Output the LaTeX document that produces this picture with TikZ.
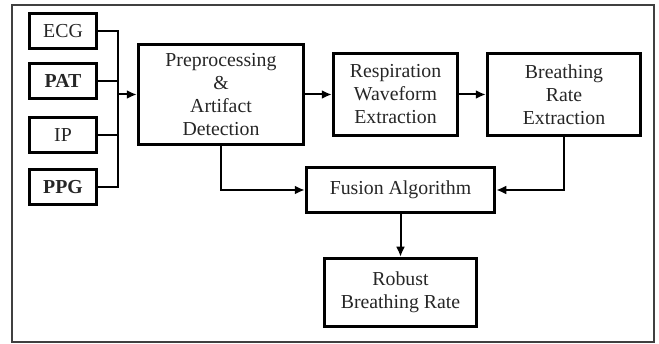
\documentclass[tikz,border=0pt]{standalone}
\usepackage{fontspec}
\setmainfont{Liberation Serif}
\usetikzlibrary{arrows.meta}
\begin{document}
\begin{tikzpicture}[x=1pt,y=-1pt,
  every node/.style={font=\fontsize{19.8}{23}\selectfont, text=black!85, align=center, inner sep=0pt},
  blk/.style={draw=black, line width=3.5pt, rectangle},
  inbox/.style={blk, minimum width=67pt, minimum height=35pt},
  conn/.style={line width=2pt, draw=black, line join=miter},
  arr/.style={conn, -{Latex[length=10pt,width=9pt]}}
]
\useasboundingbox (0,0) rectangle (659,344);
\draw[line width=1.5pt, draw=black!75] (12,5) rectangle (654,342);

\node[inbox] (ecg) at (63,31) {ECG};
\node[inbox] (pat) at (63,81) {\bfseries PAT};
\node[inbox] (ip) at (63,135) {IP};
\node[inbox] (ppg) at (63,187) {\bfseries PPG};

\node[blk, minimum width=165pt, minimum height=100pt] (pre) at (221,94.5) {\fontsize{19.8}{21}\selectfont Preprocessing\\\&\\Artifact\\Detection};
\node[blk, minimum width=124pt, minimum height=82pt] (resp) at (395.5,94.5) {Respiration\\Waveform\\Extraction};
\node[blk, minimum width=153pt, minimum height=82pt] (br) at (564,94.5) {Breathing\\Rate\\Extraction};
\node[blk, minimum width=188pt, minimum height=45pt] (fus) at (400.5,190) {Fusion Algorithm};
\node[blk, minimum width=152pt, minimum height=68pt] (rob) at (400.5,292.5) {Robust\\Breathing Rate};

\coordinate (bt) at (118,31);
\coordinate (bm) at (118,94.5);

\draw[conn] (ecg.east) -- (ecg.east -| bt) -- (ppg.east -| bt) -- (ppg.east);
\draw[conn] (pat.east) -- (pat.east -| bt);
\draw[conn] (ip.east) -- (ip.east -| bt);
\draw[arr] (bm) -- (pre.west);
\draw[arr] (pre.east) -- (resp.west);
\draw[arr] (resp.east) -- (br.west);
\draw[arr] (pre.south) |- (fus.west);
\draw[arr] (br.south) |- (fus.east);
\draw[arr] (fus.south) -- (rob.north);
\end{tikzpicture}
\end{document}
